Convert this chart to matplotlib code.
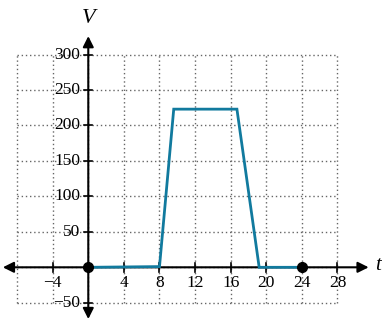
import numpy as np
import matplotlib
matplotlib.use("Agg")
import matplotlib.pyplot as plt

# data
t = [0, 8, 9.6, 16.7, 19.2, 24]
V = [0, 1, 223, 223, 0, 0]
dots_t = [0, 24]
dots_V = [0, 0]

xticks = [-4, 4, 8, 12, 16, 20, 24, 28]
yticks = [-50, 50, 100, 150, 200, 250, 300]
xgrid = [-8, -4, 0, 4, 8, 12, 16, 20, 24, 28]
ygrid = [-50, 0, 50, 100, 150, 200, 250, 300]

plt.rcParams['font.family'] = ['Liberation Serif', 'DejaVu Serif']

fig = plt.figure(figsize=(3.82, 3.2), dpi=100)
ax = fig.add_axes([0, 0, 1, 1])
ax.set_xlim(-9.92, 33.0)
ax.set_ylim(-74.3, 376.9)
ax.axis('off')

# dotted grid, only inside the box
ax.vlines(xgrid, -50, 300, colors='#666666', linestyles=(0, (1, 2)), linewidth=1.0)
ax.hlines(ygrid, -8, 28, colors='#666666', linestyles=(0, (1, 2)), linewidth=1.0)

# axes with arrows on both ends
arrow = dict(arrowstyle='-|>', color='black', lw=1.5, mutation_scale=16, shrinkA=0, shrinkB=0)
ax.annotate('', xy=(31.5, 0), xytext=(0, 0), arrowprops=arrow)
ax.annotate('', xy=(-9.6, 0), xytext=(0, 0), arrowprops=arrow)
ax.annotate('', xy=(0, 326), xytext=(0, 0), arrowprops=arrow)
ax.annotate('', xy=(0, -73), xytext=(0, 0), arrowprops=arrow)

# tick marks crossing the axes
for x in xticks:
    ax.plot([x, x], [-6, 6], color='black', lw=1.2)
    ax.text(x, -11, str(x).replace('-', '\u2212'), ha='center', va='top', fontsize=12.5)
for y in yticks:
    ax.plot([-0.45, 0.45], [y, y], color='black', lw=1.2)
    ax.text(-0.9, y, str(y).replace('-', '\u2212'), ha='right', va='center', fontsize=12.5)

ax.plot(t, V, color='#117a9e', lw=2, solid_joinstyle='miter', zorder=5)
ax.plot(dots_t, dots_V, 'o', color='black', ms=7, zorder=6)

ax.text(0, 351, 'V', ha='center', va='center', fontsize=16, style='italic')
ax.text(32.2, 2, 't', ha='left', va='center', fontsize=15, style='italic')

fig.savefig('out.png', dpi=100)
